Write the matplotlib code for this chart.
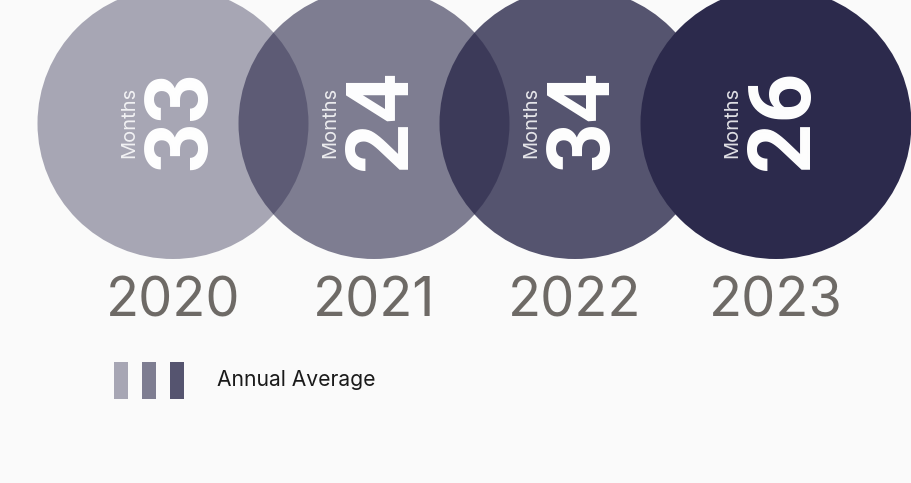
import matplotlib.pyplot as plt
from matplotlib.patches import Circle, Rectangle

# data
years = ['2020', '2021', '2022', '2023']
months = [33, 24, 34, 26]
shades = [0.4, 0.6, 0.8, 1.0]
legend_label = 'Annual Average'

BASE = '#2c2a4c'
BG = '#fafafa'

W, H = 912, 483
fig = plt.figure(figsize=(W / 100, H / 100), dpi=100, facecolor=BG)
ax = fig.add_axes([0, 0, 1, 1])
ax.set_xlim(0, W)
ax.set_ylim(H, 0)
ax.set_aspect('equal')
ax.axis('off')
ax.set_facecolor(BG)

x0, step, cy, r = 173, 201, 123.5, 135.5

for i, (yr, m, a) in enumerate(zip(years, months, shades)):
    cx = x0 + i * step
    ax.add_patch(Circle((cx, cy), r, facecolor=BASE, alpha=a, edgecolor='none', zorder=1))
    ax.text(cx - 44, cy - 1, 'Months', rotation=90, ha='center', va='center',
            color='white', alpha=0.85, fontsize=14.5, family='Inter', zorder=3)
    ax.text(cx + 8, cy - 4, str(m), rotation=90, ha='center', va='center',
            color='white', fontsize=63, fontweight='bold', family='Roboto', zorder=3)
    ax.text(cx, 302, yr, ha='center', va='center', color='#6e6a66',
            fontsize=39, fontweight='normal', family='Inter', zorder=3)

# legend swatches
for j, a in enumerate(shades[:3]):
    ax.add_patch(Rectangle((114 + j * 28, 362), 14, 37, facecolor=BASE, alpha=a,
                           edgecolor='none'))
ax.text(217, 380, legend_label, ha='left', va='center', color='#1a1a1a',
        fontsize=15.2, family='Inter')

fig.savefig('out.png', dpi=100, facecolor=BG)
